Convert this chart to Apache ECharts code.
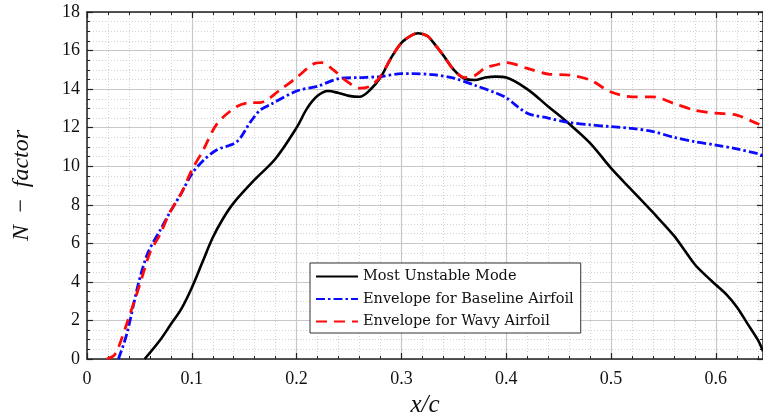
<!DOCTYPE html>
<html>
<head>
<meta charset="utf-8">
<script src="https://cdn.jsdelivr.net/npm/echarts@6/dist/echarts.min.js"></script>
<style>
  html, body { margin: 0; padding: 0; background: #fff; }
  #chart { width: 763px; height: 419px; }
</style>
</head>
<body>
<div id="chart"></div>
<script>
// Streamwise station x/c and N-factor values for each curve
const mostUnstableX = [0.055, 0.07, 0.08, 0.09, 0.1, 0.11, 0.12, 0.13, 0.14, 0.16, 0.18, 0.2, 0.21, 0.22, 0.23, 0.24, 0.25, 0.26, 0.27, 0.28, 0.29, 0.3, 0.31, 0.316, 0.325, 0.33, 0.34, 0.35, 0.36, 0.37, 0.38, 0.39, 0.4, 0.42, 0.44, 0.46, 0.48, 0.5, 0.52, 0.54, 0.56, 0.57, 0.58, 0.59, 0.6, 0.61, 0.62, 0.63, 0.64, 0.645];
const mostUnstableN = [0.0, 1.0, 1.8, 2.6, 3.7, 5.0, 6.3, 7.3, 8.1, 9.3, 10.4, 12.0, 13.0, 13.65, 13.9, 13.8, 13.65, 13.6, 13.95, 14.6, 15.6, 16.4, 16.8, 16.9, 16.75, 16.45, 15.75, 15.0, 14.55, 14.47, 14.6, 14.65, 14.6, 14.0, 13.1, 12.2, 11.2, 9.9, 8.75, 7.6, 6.4, 5.65, 4.9, 4.35, 3.85, 3.35, 2.7, 1.85, 1.0, 0.4];

const baselineX = [0.03, 0.038, 0.049, 0.058, 0.07, 0.079, 0.09, 0.1, 0.111, 0.124, 0.143, 0.156, 0.165, 0.175, 0.2, 0.22, 0.241, 0.26, 0.28, 0.3, 0.31, 0.33, 0.35, 0.37, 0.39, 0.4, 0.42, 0.44, 0.46, 0.48, 0.5, 0.52, 0.54, 0.56, 0.58, 0.6, 0.62, 0.64, 0.645];
const baselineN = [0.0, 1.3, 3.9, 5.5, 6.7, 7.6, 8.6, 9.6, 10.3, 10.85, 11.27, 12.3, 12.9, 13.2, 13.9, 14.15, 14.55, 14.6, 14.65, 14.8, 14.8, 14.75, 14.57, 14.2, 13.8, 13.55, 12.75, 12.5, 12.27, 12.15, 12.05, 11.96, 11.8, 11.5, 11.27, 11.1, 10.9, 10.65, 10.55];

const wavyX = [0.019, 0.026, 0.03, 0.039, 0.0506, 0.06, 0.07, 0.079, 0.09, 0.1, 0.111, 0.124, 0.143, 0.156, 0.165, 0.184, 0.2, 0.216, 0.224, 0.235, 0.248, 0.26, 0.27, 0.28, 0.29, 0.3, 0.31, 0.316, 0.325, 0.33, 0.34, 0.35, 0.36, 0.37, 0.38, 0.39, 0.4, 0.42, 0.44, 0.46, 0.48, 0.5, 0.52, 0.54, 0.56, 0.58, 0.6, 0.62, 0.64, 0.645];
const wavyN = [0.0, 0.2, 0.6, 2.0, 3.9, 5.5, 6.5, 7.6, 8.6, 9.8, 10.85, 12.2, 13.1, 13.3, 13.3, 13.95, 14.6, 15.3, 15.37, 15.0, 14.4, 14.05, 14.15, 14.65, 15.6, 16.4, 16.8, 16.9, 16.75, 16.45, 15.75, 15.0, 14.6, 14.7, 15.1, 15.25, 15.37, 15.08, 14.78, 14.73, 14.47, 13.85, 13.6, 13.6, 13.26, 12.9, 12.75, 12.65, 12.2, 12.1];

const seriesNames = ['Most Unstable Mode', 'Envelope for Baseline Airfoil', 'Envelope for Wavy Airfoil'];
const xTickValues = [0, 0.1, 0.2, 0.3, 0.4, 0.5, 0.6];
const yTickValues = [0, 2, 4, 6, 8, 10, 12, 14, 16, 18];

const pairs = (xs, ys) => xs.map((x, i) => [x, ys[i]]);

const serif = '"Liberation Serif", "DejaVu Serif", serif';
const axisColor = '#222';

const chart = echarts.init(document.getElementById('chart'), null, { renderer: 'canvas' });

function valueAxisX(extra) {
  return Object.assign({
    type: 'value', min: 0, max: 0.645, interval: 0.1,
    axisLine: { show: true, onZero: false, lineStyle: { color: axisColor, width: 1.5 } },
    axisTick: { show: true, inside: true, length: 6, lineStyle: { color: axisColor, width: 1.2 } },
    minorTick: { show: true, splitNumber: 5, length: 3, lineStyle: { color: axisColor, width: 1 } },
    splitLine: { show: false },
    minorSplitLine: { show: false }
  }, extra);
}
function valueAxisY(extra) {
  return Object.assign({
    type: 'value', min: 0, max: 18, interval: 2,
    axisLine: { show: true, onZero: false, lineStyle: { color: axisColor, width: 1.5 } },
    axisTick: { show: true, inside: true, length: 6, lineStyle: { color: axisColor, width: 1.2 } },
    minorTick: { show: true, splitNumber: 4, length: 3, lineStyle: { color: axisColor, width: 1 } },
    splitLine: { show: false },
    minorSplitLine: { show: false }
  }, extra);
}

const option = {
  backgroundColor: '#fff',
  animation: false,
  grid: { left: 87, right: 0, top: 12, bottom: 60, containLabel: false, outerBoundsMode: 'none' },
  xAxis: [
    valueAxisX({
      position: 'bottom',
      name: 'x/c', nameLocation: 'middle', nameGap: 34,
      nameTextStyle: { fontFamily: serif, fontStyle: 'italic', fontSize: 25, color: '#111' },
      axisLabel: {
        show: true, margin: 11, fontFamily: serif, fontSize: 18, color: '#111',
        showMaxLabel: false,
        formatter: v => (xTickValues.some(t => Math.abs(t - v) < 1e-9) ? (v === 0 ? '0' : v.toFixed(1)) : '')
      },
      splitLine: { show: true, lineStyle: { color: '#c8c8c8', width: 1.2 } },
      minorSplitLine: { show: true, lineStyle: { color: '#d2d2d2', width: 1, type: [1, 2] } }
    }),
    valueAxisX({ position: 'top', axisLabel: { show: false } })
  ],
  yAxis: [
    valueAxisY({
      position: 'left',
      name: 'N\u2009 \u2212 \u2009factor', nameLocation: 'middle', nameGap: 53, nameRotate: 90,
      nameTextStyle: { fontFamily: serif, fontStyle: 'italic', fontSize: 24, color: '#111' },
      axisLabel: {
        show: true, margin: 7, fontFamily: serif, fontSize: 18, color: '#111',
        formatter: v => (yTickValues.includes(v) ? String(v) : '')
      },
      splitLine: { show: true, lineStyle: { color: '#c8c8c8', width: 1.2 } },
      minorSplitLine: { show: true, lineStyle: { color: '#d2d2d2', width: 1, type: [1, 2] } }
    }),
    valueAxisY({ position: 'right', axisLabel: { show: false } })
  ],
  legend: {
    show: true,
    orient: 'vertical',
    left: 310, top: 263,
    padding: [6, 7, 4, 5],
    itemGap: 7.5,
    itemWidth: 42, itemHeight: 14,
    backgroundColor: '#fff',
    borderColor: '#333', borderWidth: 1, borderRadius: 0,
    itemStyle: { opacity: 0 },
    textStyle: { fontFamily: '"DejaVu Serif", serif', fontSize: 14.5, color: '#111' },
    data: seriesNames
  },
  series: [
    {
      name: seriesNames[0], type: 'line', xAxisIndex: 0, yAxisIndex: 0,
      data: pairs(mostUnstableX, mostUnstableN),
      smooth: 0.35, showSymbol: false, symbol: 'none',
      lineStyle: { color: '#000', width: 2.6, type: 'solid' },
      itemStyle: { color: '#000' }
    },
    {
      name: seriesNames[1], type: 'line', xAxisIndex: 0, yAxisIndex: 0,
      data: pairs(baselineX, baselineN),
      smooth: 0.3, showSymbol: false, symbol: 'none',
      lineStyle: { color: '#0a0aff', width: 2.8, type: [9, 3, 2.5, 3] },
      itemStyle: { color: '#0a0aff' }
    },
    {
      name: seriesNames[2], type: 'line', xAxisIndex: 0, yAxisIndex: 0,
      data: pairs(wavyX, wavyN),
      smooth: 0.3, showSymbol: false, symbol: 'none',
      lineStyle: { color: '#ff0a0a', width: 2.8, type: [11, 7] },
      itemStyle: { color: '#ff0a0a' }
    }
  ]
};

chart.setOption(option);
</script>
</body>
</html>
